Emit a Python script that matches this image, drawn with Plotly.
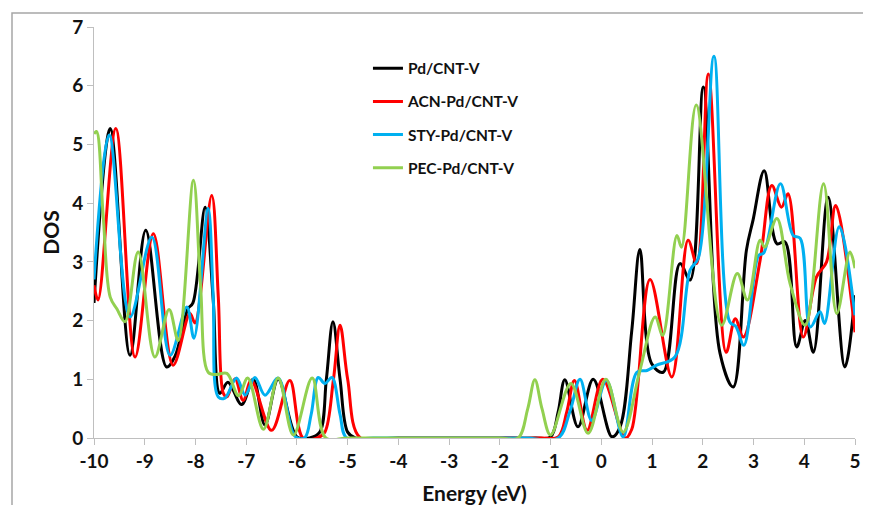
import plotly.graph_objects as go

# ---- data (Energy in eV, DOS) ----
pd_x = [-10, -9.68, -9.29, -8.98, -8.57, -8.4, -8.15, -8.05, -7.81, -7.65, -7.52, -7.36, -7.09, -6.86, -6.63, -6.37, -6.0, -5.75, -5.55, -5.42, -5.29, -5.15, -5.0, -4.85, -4.0, -3.0, -2.0, -1.3, -1.0, -0.85, -0.72, -0.46, -0.16, 0.21, 0.37, 0.6, 0.76, 0.99, 1.22, 1.55, 1.75, 2.01, 2.34, 2.6, 2.86, 2.99, 3.21, 3.46, 3.62, 3.85, 4.02, 4.18, 4.47, 4.8, 5.0]
pd_y = [2.3, 5.27, 1.41, 3.54, 1.21, 1.4, 2.2, 2.3, 3.93, 2.35, 0.76, 0.95, 0.57, 1.0, 0.22, 1.0, 0.02, 0.0, 0.1, 1.0, 1.98, 1.0, 0.1, 0.0, 0.0, 0.0, 0.0, 0.0, 0.02, 0.45, 0.99, 0.19, 1.0, 0.02, 0.19, 1.83, 3.21, 1.27, 1.12, 2.97, 2.69, 5.98, 1.44, 0.87, 3.2, 3.71, 4.55, 3.31, 3.34, 1.55, 2.0, 1.46, 4.1, 1.21, 2.43]

acn_x = [-10, -9.92, -9.57, -9.19, -8.83, -8.44, -8.11, -8.01, -7.68, -7.55, -7.45, -7.38, -7.22, -7.06, -6.9, -6.5, -6.14, -5.88, -5.6, -5.45, -5.28, -5.15, -5.0, -4.75, -4.0, -3.0, -2.0, -1.2, -0.85, -0.68, -0.53, -0.28, 0.03, 0.47, 0.6, 0.96, 1.39, 1.71, 1.88, 2.11, 2.46, 2.64, 2.8, 3.13, 3.36, 3.55, 3.68, 3.98, 4.24, 4.44, 4.62, 5.0]
acn_y = [2.6, 2.35, 5.27, 1.38, 3.48, 1.24, 2.12, 1.96, 4.13, 2.4, 0.76, 0.7, 1.01, 0.64, 0.98, 0.13, 0.98, 0.0, 0.0, 0.1, 1.0, 1.92, 1.0, 0.0, 0.0, 0.0, 0.0, 0.0, 0.02, 0.45, 0.98, 0.13, 1.0, 0.0, 0.15, 2.7, 1.04, 3.37, 2.97, 6.2, 1.46, 2.03, 1.72, 3.03, 4.3, 3.93, 4.16, 1.72, 2.74, 3.0, 3.96, 1.8]

sty_x = [-10, -9.7, -9.29, -8.86, -8.5, -8.17, -8.03, -7.75, -7.65, -7.55, -7.42, -7.19, -7.02, -6.83, -6.63, -6.37, -6.04, -5.85, -5.72, -5.58, -5.45, -5.31, -5.15, -5.02, -4.5, -3.5, -2.5, -1.5, -0.85, -0.62, -0.42, -0.19, 0.1, 0.43, 0.7, 0.9, 1.09, 1.45, 1.75, 1.91, 2.22, 2.53, 2.65, 2.81, 3.1, 3.2, 3.53, 3.78, 3.92, 4.12, 4.31, 4.4, 4.69, 5.0]
sty_y = [2.7, 5.16, 2.06, 3.42, 1.41, 2.23, 1.7, 3.91, 2.4, 0.7, 0.68, 1.02, 0.73, 1.03, 0.73, 1.02, 0.03, 0.0, 0.4, 1.03, 0.93, 1.03, 0.4, 0.0, 0.0, 0.0, 0.0, 0.0, 0.0, 0.45, 1.0, 0.3, 0.98, 0.02, 1.12, 1.15, 1.24, 1.38, 2.86, 3.06, 6.5, 1.98, 1.9, 1.58, 3.11, 3.15, 4.33, 3.45, 3.4, 1.89, 2.15, 1.95, 3.6, 2.09]

pec_x = [-10, -9.95, -9.82, -9.68, -9.55, -9.39, -9.13, -8.8, -8.52, -8.34, -8.04, -7.9, -7.75, -7.6, -7.38, -7.15, -6.97, -6.66, -6.37, -6.07, -5.7, -5.43, -5.0, -4.0, -3.0, -2.0, -1.64, -1.45, -1.31, -1.17, -1.0, -0.6, -0.26, 0.09, 0.43, 0.76, 1.06, 1.21, 1.49, 1.58, 1.87, 2.37, 2.68, 2.88, 3.13, 3.22, 3.46, 3.72, 4.02, 4.38, 4.64, 4.9, 5.0]
pec_y = [5.18, 5.22, 3.8, 2.4, 2.2, 1.98, 3.17, 1.38, 2.19, 1.66, 4.39, 2.6, 1.12, 1.08, 1.1, 0.72, 1.02, 0.15, 1.02, 0.05, 1.02, 0.0, 0.0, 0.0, 0.0, 0.0, 0.0, 0.5, 0.99, 0.5, 0.05, 0.93, 0.08, 1.0, 0.1, 1.15, 2.06, 1.75, 3.45, 3.25, 5.67, 1.92, 2.8, 2.35, 3.37, 3.25, 3.74, 2.63, 1.92, 4.33, 2.12, 3.17, 2.89]

series = [
    ("Pd/CNT-V", pd_x, pd_y, "#000000"),
    ("ACN-Pd/CNT-V", acn_x, acn_y, "#FF0000"),
    ("STY-Pd/CNT-V", sty_x, sty_y, "#00B0F0"),
    ("PEC-Pd/CNT-V", pec_x, pec_y, "#92D050"),
]

x_ticks = list(range(-10, 6))
y_ticks = list(range(0, 8))

fig = go.Figure()
for i, (name, xs, ys, col) in enumerate(series):
    fig.add_trace(go.Scatter(
        x=xs, y=ys, name=name, mode="lines",
        line=dict(color=col, width=3, shape="spline", smoothing=1.0),
        legendgroup="g%d" % i,
    ))

# page body has an 8px margin, so the figure is sized/offset to compensate
W, H = 863, 497
L, R, T, B = 86, 16, 19, 67
tick_font = dict(size=19, family="Lato, sans-serif", color="#111111", weight="bold")
title_font = dict(size=21, family="Lato, sans-serif", color="#111111", weight="bold")
fig.update_layout(
    width=W, height=H, autosize=False,
    margin=dict(l=L, r=R, t=T, b=B, pad=0),
    paper_bgcolor="white", plot_bgcolor="white",
    font=dict(family="Lato, 'Open Sans', sans-serif", color="#222222"),
    showlegend=True,
    legend=dict(
        x=0.36, y=0.94, xanchor="left", yanchor="top",
        bgcolor="rgba(0,0,0,0)",
        font=dict(size=15.5, family="Lato, sans-serif", color="#111111", weight="bold"),
        traceorder="grouped", tracegroupgap=10,
    ),
    xaxis=dict(
        range=[-10, 5], tickmode="array", tickvals=x_ticks, ticktext=[str(v) for v in x_ticks],
        showgrid=False, zeroline=False, showline=True, linecolor="#BFBFBF", linewidth=1,
        ticks="outside", ticklen=6, tickcolor="#BFBFBF", automargin=False,
        tickfont=tick_font,
        title=dict(text="Energy (eV)", font=title_font, standoff=15),
    ),
    yaxis=dict(
        range=[0, 7], tickmode="array", tickvals=y_ticks, ticktext=[str(v) for v in y_ticks],
        showgrid=False, zeroline=False, showline=True, linecolor="#BFBFBF", linewidth=1,
        ticks="outside", ticklen=6, tickcolor="#BFBFBF", automargin=False,
        tickfont=tick_font,
        title=dict(text="DOS", font=title_font, standoff=6),
    ),
)

# outer chart-area border (Excel style), open to the right/bottom edges
pw = W - L - R
ph = H - T - B
def px2x(p):
    return (p - L) / pw
def py2y(p):
    return (H - B - p) / ph
fig.add_shape(type="rect", xref="paper", yref="paper",
              x0=px2x(4), x1=px2x(W + 5), y0=py2y(H + 5), y1=py2y(5),
              line=dict(color="#A6A6A6", width=1.5), fillcolor="rgba(0,0,0,0)", layer="below")

fig.write_html("out.html")
